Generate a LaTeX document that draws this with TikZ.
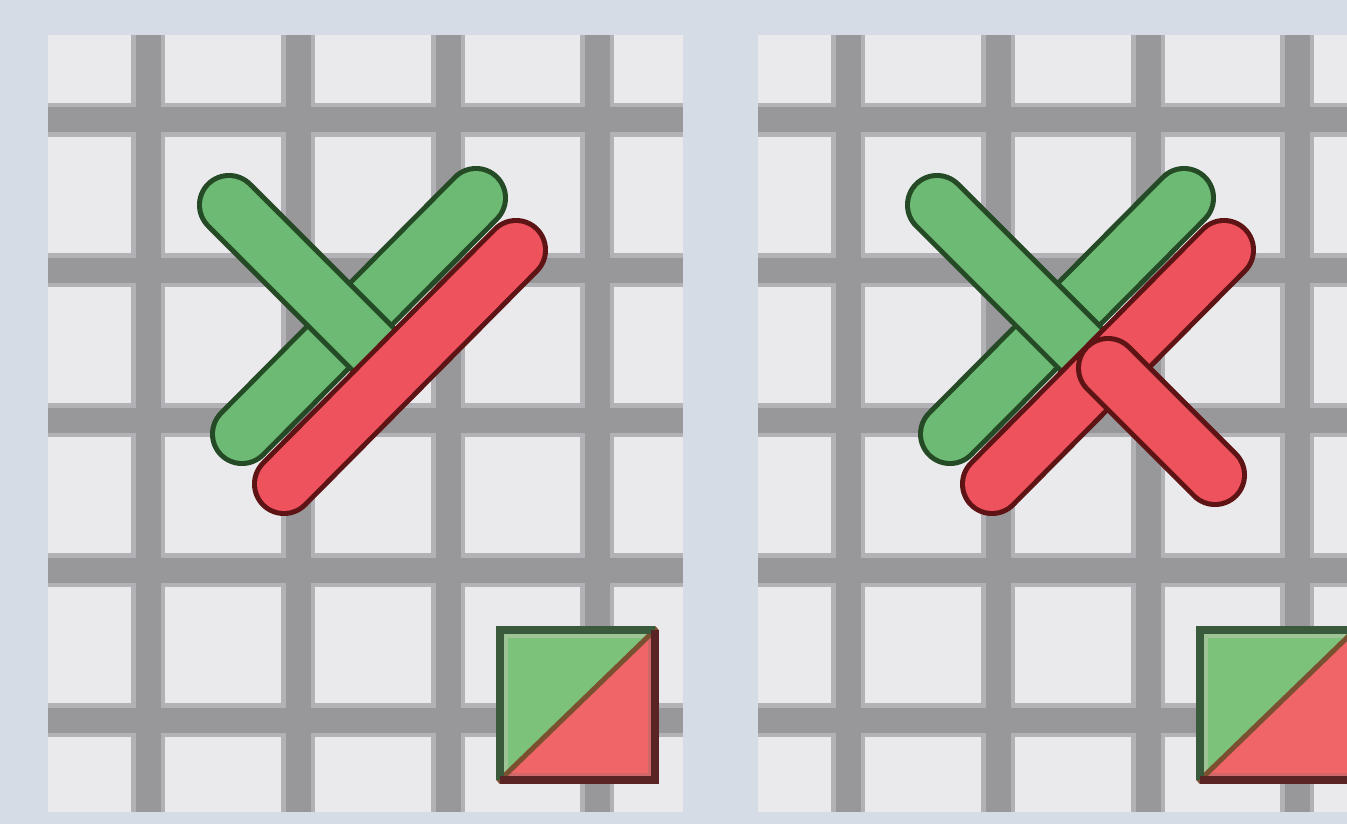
\documentclass[tikz,border=0pt]{standalone}
\definecolor{bgc}{HTML}{D6DCE6}
\definecolor{cellc}{HTML}{EAEAED}
\definecolor{lineedge}{HTML}{B2B2B6}
\definecolor{linecore}{HTML}{98989B}
\definecolor{gfill}{HTML}{6DBA74}
\definecolor{gdark}{HTML}{244A26}
\definecolor{rfill}{HTML}{EE525C}
\definecolor{rdark}{HTML}{5E1414}
\definecolor{diag}{HTML}{7A5030}
\definecolor{sqg}{HTML}{7DC27A}
\definecolor{sqr}{HTML}{F06668}
\definecolor{sqgband}{HTML}{9EC496}
\definecolor{sqrband}{HTML}{D0686A}
\definecolor{sqgdark}{HTML}{3A5A3C}
\definecolor{sqrdark}{HTML}{5A2424}
\tikzset{
  gridedge/.style={line width=34pt, color=lineedge},
  gridcore/.style={line width=25pt, color=linecore},
  gout/.style={line width=64pt, color=gdark, line cap=round},
  gin/.style={line width=54pt, color=gfill, line cap=round},
  rout/.style={line width=64pt, color=rdark, line cap=round},
  rin/.style={line width=54pt, color=rfill, line cap=round},
  diagline/.style={draw=diag, line width=5pt},
  gborder/.style={draw=sqgdark, line width=8pt, line cap=square},
  rborder/.style={draw=sqrdark, line width=8pt, line cap=square},
  gband/.style={draw=sqgband, line width=6pt},
  rband/.style={draw=sqrband, line width=6pt},
}
\newcommand\gstitch[2]{\draw[gout] #1 -- #2; \draw[gin] #1 -- #2;}
\newcommand\rstitch[2]{\draw[rout] #1 -- #2; \draw[rin] #1 -- #2;}
\begin{document}
\begin{tikzpicture}[x=1pt,y=-1pt]
\useasboundingbox (0,0) rectangle (1347,824);
\fill[bgc] (0,0) rectangle (1347,824);
% panels
\foreach \ox/\lx in {0/48,700/758}{
  \fill[cellc] (\lx,35) rectangle (683+\ox,812);
  \foreach \yy in {120,270,420,570,720}{
    \draw[gridedge] (\lx,\yy) -- (683+\ox,\yy);
  }
  \foreach \xx in {148,298,448,597}{
    \draw[gridedge] (\xx+\ox,35) -- (\xx+\ox,812);
  }
  \foreach \yy in {120,270,420,570,720}{
    \draw[gridcore] (\lx,\yy) -- (683+\ox,\yy);
  }
  \foreach \xx in {148,298,448,597}{
    \draw[gridcore] (\xx+\ox,35) -- (\xx+\ox,812);
  }
  % legend square
  \fill[sqg] (498+\ox,628) -- (657+\ox,628) -- (498+\ox,782) -- cycle;
  \fill[sqr] (657+\ox,628) -- (657+\ox,782) -- (498+\ox,782) -- cycle;
  \draw[gband] (505+\ox,776) -- (505+\ox,635) -- (651+\ox,635);
  \draw[rband] (651+\ox,635) -- (651+\ox,776) -- (505+\ox,776);
  \draw[diagline] (498+\ox,782) -- (657+\ox,628);
  \draw[gborder] (500+\ox,780) -- (500+\ox,630) -- (655+\ox,630);
  \draw[rborder] (655+\ox,630) -- (655+\ox,780) -- (500+\ox,780);
}
% left panel stitches
\gstitch{(242,434)}{(476,198)}
\gstitch{(229,205)}{(372,348)}
\rstitch{(284,484)}{(516,250)}
% right panel stitches
\gstitch{(950,434)}{(1184,198)}
\gstitch{(937,205)}{(1080,348)}
\rstitch{(992,484)}{(1224,250)}
\rstitch{(1108,368)}{(1215,475)}
\end{tikzpicture}
\end{document}
